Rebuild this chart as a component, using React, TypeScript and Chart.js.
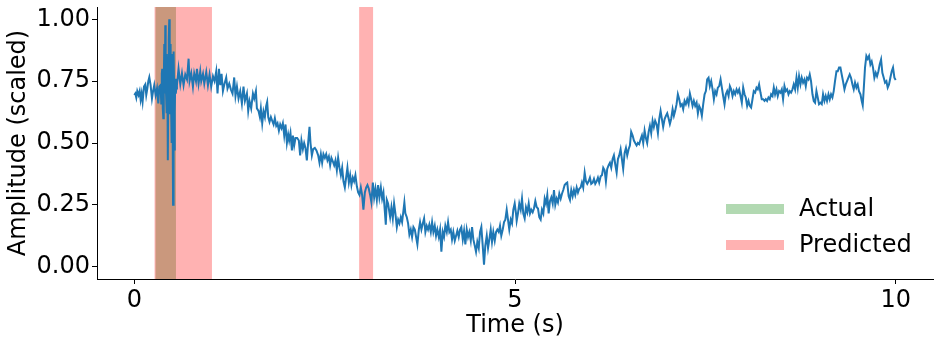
import React, { useEffect, useRef } from "react";
import { Chart, registerables } from "chart.js";

Chart.register(...registerables);

const timeSec = [
  0.000, 0.013, 0.026, 0.039, 0.056, 0.070, 0.083, 0.096, 0.109, 0.127, 0.144, 0.157, 0.171, 0.184, 0.197, 0.214,
  0.232, 0.245, 0.262, 0.280, 0.298, 0.315, 0.328, 0.345,
  0.354, 0.361, 0.367, 0.374, 0.381, 0.387, 0.394, 0.400, 0.407, 0.412, 0.417, 0.423, 0.427, 0.433, 0.438, 0.442,
  0.446, 0.450, 0.455, 0.459, 0.465, 0.470, 0.474, 0.479, 0.483, 0.486, 0.491, 0.495, 0.499, 0.503, 0.509, 0.514,
  0.518, 0.524, 0.529, 0.533, 0.538, 0.545, 0.551,
  0.560, 0.581, 0.604, 0.626, 0.647, 0.669, 0.692, 0.713, 0.726, 0.748, 0.770, 0.787, 0.810, 0.823, 0.844, 0.866,
  0.879, 0.902, 0.919, 0.945, 0.967, 0.988, 1.010, 1.033, 1.054, 1.076, 1.093, 1.112, 1.129, 1.146, 1.164, 1.185,
  1.207, 1.224, 1.247, 1.269, 1.290, 1.312, 1.329, 1.348, 1.369, 1.391, 1.413, 1.434, 1.453, 1.479, 1.496, 1.513,
  1.535, 1.558, 1.575, 1.597, 1.610, 1.631, 1.649, 1.662, 1.680, 1.697, 1.715, 1.732, 1.745, 1.759, 1.776, 1.794,
  1.811, 1.829, 1.846, 1.864, 1.881, 1.899, 1.916, 1.933, 1.951, 1.969, 1.986, 2.004, 2.021, 2.034, 2.051, 2.070,
  2.083, 2.100, 2.117, 2.139, 2.161, 2.178, 2.195, 2.214, 2.231, 2.248, 2.266, 2.283, 2.301, 2.314, 2.332, 2.349,
  2.371, 2.392, 2.415, 2.432, 2.450, 2.467, 2.484, 2.503, 2.520, 2.537, 2.555, 2.572, 2.589, 2.608, 2.625, 2.642,
  2.660, 2.677, 2.695, 2.713, 2.730, 2.747, 2.765, 2.782, 2.799, 2.818, 2.835, 2.852, 2.870, 2.887, 2.904, 2.923,
  2.940, 2.957, 2.975, 2.992, 3.009, 3.028, 3.045, 3.062, 3.080, 3.097, 3.114, 3.133, 3.150, 3.167, 3.185, 3.202,
  3.219, 3.238, 3.255, 3.272, 3.290, 3.303, 3.316, 3.333, 3.360, 3.377, 3.395, 3.412, 3.429, 3.448, 3.465, 3.482,
  3.500, 3.517, 3.534, 3.547, 3.560, 3.579, 3.596, 3.613, 3.631, 3.648, 3.666, 3.684, 3.701, 3.718, 3.737, 3.753,
  3.771, 3.789, 3.806, 3.823, 3.841, 3.858, 3.875, 3.894, 3.911, 3.928, 3.946, 3.963, 3.980, 3.999, 4.016, 4.033,
  4.051, 4.068, 4.085, 4.104, 4.121, 4.138, 4.156, 4.173, 4.190, 4.209, 4.226, 4.243, 4.261, 4.278, 4.295, 4.314,
  4.331, 4.348, 4.366, 4.383, 4.400, 4.419, 4.436, 4.453, 4.471, 4.488, 4.505, 4.524, 4.541, 4.558, 4.576, 4.593,
  4.610, 4.629, 4.646, 4.663, 4.681, 4.698, 4.715, 4.734, 4.751, 4.768, 4.786, 4.803, 4.820, 4.839, 4.856, 4.873,
  4.891, 4.908, 4.925, 4.944, 4.961, 4.978, 4.996, 5.013, 5.022, 5.039, 5.056, 5.075, 5.092, 5.109, 5.127, 5.144,
  5.162, 5.180, 5.197, 5.214, 5.232, 5.249, 5.267, 5.285, 5.302, 5.319, 5.337, 5.354, 5.372, 5.390, 5.407, 5.424,
  5.442, 5.459, 5.477, 5.495, 5.512, 5.529, 5.547, 5.564, 5.582, 5.600, 5.617, 5.634, 5.652, 5.669, 5.686, 5.705,
  5.722, 5.739, 5.757, 5.774, 5.791, 5.810, 5.827, 5.844, 5.862, 5.879, 5.896, 5.915, 5.932, 5.949, 5.967, 5.984,
  6.001, 6.020, 6.037, 6.054, 6.072, 6.089, 6.106, 6.125, 6.142, 6.159, 6.177, 6.194, 6.211, 6.230, 6.247, 6.264,
  6.282, 6.299, 6.316, 6.335, 6.352, 6.369, 6.387, 6.404, 6.421, 6.440, 6.457, 6.474, 6.492, 6.509, 6.526, 6.545,
  6.562, 6.579, 6.597, 6.614, 6.631, 6.650, 6.667, 6.684, 6.702, 6.719, 6.736, 6.755, 6.772, 6.789, 6.807, 6.824,
  6.841, 6.860, 6.877, 6.894, 6.912, 6.929, 6.946, 6.965, 6.982, 6.999, 7.017, 7.034, 7.051, 7.070, 7.087, 7.104,
  7.122, 7.139, 7.157, 7.174, 7.192, 7.209, 7.227, 7.244, 7.262, 7.280, 7.297, 7.314, 7.332, 7.349, 7.367, 7.385,
  7.402, 7.419, 7.437, 7.454, 7.472, 7.490, 7.507, 7.524, 7.542, 7.559, 7.577, 7.595, 7.612, 7.629, 7.647, 7.664,
  7.682, 7.700, 7.717, 7.734, 7.752, 7.769, 7.787, 7.805, 7.822, 7.839, 7.857, 7.874, 7.892, 7.910, 7.927, 7.944,
  7.962, 7.979, 7.997, 8.015, 8.031, 8.049, 8.067, 8.084, 8.101, 8.119, 8.136, 8.154, 8.172, 8.189, 8.206, 8.224,
  8.241, 8.259, 8.277, 8.294, 8.311, 8.329, 8.346, 8.364, 8.382, 8.399, 8.416, 8.434, 8.451, 8.469, 8.487, 8.504,
  8.521, 8.539, 8.556, 8.574, 8.592, 8.609, 8.626, 8.644, 8.661, 8.679, 8.697, 8.714, 8.731, 8.749, 8.766, 8.784,
  8.802, 8.819, 8.836, 8.854, 8.871, 8.888, 8.907, 8.924, 8.941, 8.959, 8.976, 8.993, 9.012, 9.029, 9.046, 9.064,
  9.081, 9.098, 9.117, 9.134, 9.151, 9.169, 9.186, 9.203, 9.222, 9.239, 9.256, 9.274, 9.291, 9.308, 9.327, 9.344,
  9.361, 9.379, 9.396, 9.413, 9.432, 9.449, 9.466, 9.484, 9.501, 9.518, 9.537, 9.554, 9.567, 9.580, 9.597, 9.615,
  9.633, 9.650, 9.668, 9.685, 9.702, 9.720, 9.738, 9.755, 9.773, 9.790, 9.808, 9.825, 9.843, 9.860, 9.878, 9.895,
  9.912, 9.930, 9.948, 9.965, 9.983, 10.000,
];

// Scaled amplitude at each time above
const amplitude = [
  0.694, 0.700, 0.683, 0.710, 0.694, 0.710, 0.675, 0.700, 0.667, 0.728, 0.737, 0.694, 0.720, 0.750, 0.766, 0.734,
  0.680, 0.707, 0.734, 0.694, 0.720, 0.660, 0.728, 0.734,
  0.660, 0.780, 0.800, 0.640, 0.600, 0.750, 0.900, 0.700, 0.976, 0.800, 0.700, 0.860, 0.620, 0.850, 0.600, 0.430,
  0.700, 0.750, 0.920, 1.000, 0.800, 0.620, 0.880, 0.900, 0.650, 0.500, 0.700, 0.860, 0.750, 0.600, 0.250, 0.550,
  0.870, 0.700, 0.470, 0.620, 0.760, 0.700, 0.720,
  0.734, 0.800, 0.738, 0.782, 0.734, 0.777, 0.757, 0.841, 0.750, 0.782, 0.728, 0.782, 0.750, 0.800, 0.740, 0.790,
  0.750, 0.780, 0.740, 0.787, 0.734, 0.777, 0.728, 0.770, 0.750, 0.790, 0.700, 0.800, 0.734, 0.780, 0.710, 0.740,
  0.765, 0.720, 0.740, 0.716, 0.700, 0.765, 0.690, 0.728, 0.680, 0.710, 0.660, 0.728, 0.670, 0.700, 0.630, 0.670,
  0.640, 0.700, 0.680, 0.710, 0.640, 0.630, 0.605, 0.640, 0.580, 0.628, 0.605, 0.650, 0.666, 0.605, 0.585, 0.605,
  0.590, 0.575, 0.600, 0.570, 0.580, 0.550, 0.575, 0.560, 0.580, 0.530, 0.575, 0.500, 0.534, 0.510, 0.540, 0.470,
  0.530, 0.490, 0.520, 0.520, 0.510, 0.450, 0.510, 0.475, 0.500, 0.480, 0.430, 0.500, 0.565, 0.500, 0.450, 0.475,
  0.480, 0.470, 0.450, 0.420, 0.455, 0.420, 0.455, 0.440, 0.455, 0.430, 0.445, 0.410, 0.440, 0.425, 0.410, 0.430,
  0.390, 0.440, 0.400, 0.370, 0.400, 0.345, 0.320, 0.360, 0.400, 0.340, 0.370, 0.330, 0.360, 0.345, 0.370, 0.325,
  0.300, 0.290, 0.320, 0.290, 0.230, 0.300, 0.320, 0.330, 0.315, 0.290, 0.260, 0.340, 0.280, 0.315, 0.270, 0.330,
  0.280, 0.320, 0.275, 0.300, 0.225, 0.170, 0.270, 0.255, 0.200, 0.240, 0.195, 0.255, 0.215, 0.160, 0.190, 0.175,
  0.200, 0.180, 0.225, 0.260, 0.215, 0.200, 0.175, 0.130, 0.150, 0.120, 0.160, 0.150, 0.120, 0.090, 0.150, 0.180,
  0.150, 0.175, 0.195, 0.140, 0.165, 0.150, 0.170, 0.140, 0.180, 0.140, 0.165, 0.125, 0.150, 0.120, 0.150, 0.060,
  0.140, 0.120, 0.165, 0.140, 0.180, 0.140, 0.150, 0.110, 0.140, 0.105, 0.125, 0.145, 0.120, 0.150, 0.160, 0.110,
  0.145, 0.090, 0.150, 0.120, 0.140, 0.105, 0.160, 0.110, 0.085, 0.060, 0.100, 0.075, 0.140, 0.160, 0.085, 0.008,
  0.085, 0.125, 0.075, 0.110, 0.150, 0.100, 0.140, 0.105, 0.140, 0.150, 0.140, 0.165, 0.125, 0.150, 0.180, 0.190,
  0.230, 0.190, 0.150, 0.190, 0.175, 0.230, 0.255, 0.215, 0.185, 0.215, 0.255, 0.230, 0.275, 0.215, 0.195, 0.240,
  0.220, 0.255, 0.215, 0.230, 0.220, 0.235, 0.265, 0.240, 0.235, 0.200, 0.190, 0.230, 0.215, 0.275, 0.255, 0.290,
  0.215, 0.265, 0.280, 0.255, 0.310, 0.250, 0.275, 0.260, 0.295, 0.275, 0.295, 0.310, 0.330, 0.336, 0.340, 0.285,
  0.270, 0.310, 0.285, 0.310, 0.290, 0.320, 0.300, 0.315, 0.320, 0.340, 0.320, 0.380, 0.345, 0.335, 0.345, 0.360,
  0.335, 0.340, 0.355, 0.335, 0.345, 0.360, 0.340, 0.365, 0.370, 0.400, 0.390, 0.345, 0.395, 0.410, 0.420, 0.400,
  0.435, 0.450, 0.415, 0.380, 0.435, 0.450, 0.475, 0.435, 0.395, 0.460, 0.480, 0.450, 0.475, 0.490, 0.545, 0.530,
  0.510, 0.500, 0.490, 0.500, 0.495, 0.515, 0.530, 0.500, 0.550, 0.520, 0.500, 0.545, 0.570, 0.540, 0.590, 0.565,
  0.590, 0.575, 0.540, 0.597, 0.630, 0.597, 0.565, 0.597, 0.610, 0.620, 0.600, 0.577, 0.597, 0.637, 0.610, 0.630,
  0.657, 0.697, 0.677, 0.650, 0.657, 0.637, 0.670, 0.657, 0.677, 0.657, 0.700, 0.677, 0.650, 0.670, 0.650, 0.663,
  0.620, 0.650, 0.637, 0.610, 0.657, 0.697, 0.710, 0.757, 0.764, 0.730, 0.750, 0.717, 0.677, 0.710, 0.697, 0.724,
  0.730, 0.757, 0.724, 0.690, 0.657, 0.697, 0.710, 0.690, 0.730, 0.717, 0.690, 0.710, 0.697, 0.717, 0.704, 0.717,
  0.690, 0.663, 0.724, 0.697, 0.684, 0.650, 0.670, 0.650, 0.643, 0.677, 0.710, 0.704, 0.724, 0.717, 0.737, 0.704,
  0.677, 0.677, 0.670, 0.677, 0.670, 0.684, 0.677, 0.697, 0.690, 0.724, 0.697, 0.717, 0.690, 0.710, 0.704, 0.717,
  0.677, 0.730, 0.710, 0.717, 0.697, 0.710, 0.704, 0.717, 0.737, 0.717, 0.764, 0.724, 0.770, 0.737, 0.764, 0.744,
  0.757, 0.730, 0.764, 0.757, 0.777, 0.750, 0.697, 0.670, 0.663, 0.710, 0.684, 0.657, 0.663, 0.657, 0.697, 0.670,
  0.690, 0.670, 0.697, 0.677, 0.697, 0.684, 0.710, 0.750, 0.790, 0.790, 0.805, 0.805, 0.777, 0.750, 0.717, 0.737,
  0.750, 0.764, 0.777, 0.764, 0.737, 0.717, 0.744, 0.724, 0.737, 0.710, 0.697, 0.670, 0.653, 0.717, 0.805, 0.852,
  0.840, 0.852, 0.818, 0.830, 0.805, 0.764, 0.784, 0.770, 0.790, 0.818, 0.838, 0.784, 0.764, 0.744, 0.750, 0.724,
  0.737, 0.764, 0.790, 0.805, 0.764, 0.755,
];

const xTicks = [0, 5, 10];
const yTicks = [0, 0.25, 0.5, 0.75, 1.0];

// Shaded intervals (seconds)
const actualSpans = [[0.279, 0.547]];
const predictedSpans = [
  [0.266, 1.02],
  [2.953, 3.136],
];

const legendLabels = ["Actual", "Predicted"];
const xTitle = "Time (s)";
const yTitle = "Amplitude (scaled)";

const FONT = "'DejaVu Sans', sans-serif";
const LINE_COLOR = "#1f77b4";
const ACTUAL_COLOR = "rgba(0,128,0,0.3)";
const PRED_COLOR = "rgba(255,0,0,0.3)";

export default function App() {
  const ref = useRef<HTMLCanvasElement | null>(null);

  useEffect(() => {
    if (!ref.current) return;

    const spanPlugin = {
      id: "spans",
      beforeDatasetsDraw(chart: any) {
        const { ctx, chartArea, scales } = chart;
        const x = scales.x;
        ctx.save();
        const draw = (spans: number[][], color: string) => {
          spans.forEach(([a, b]) => {
            const x0 = x.getPixelForValue(a);
            const x1 = x.getPixelForValue(b);
            ctx.fillStyle = color;
            ctx.fillRect(x0, chartArea.top, x1 - x0, chartArea.bottom - chartArea.top);
          });
        };
        draw(actualSpans, ACTUAL_COLOR);
        draw(predictedSpans, PRED_COLOR);
        ctx.restore();
      },
    };

    const legendPlugin = {
      id: "customLegend",
      afterDraw(chart: any) {
        const { ctx, chartArea } = chart;
        const colors = [ACTUAL_COLOR, PRED_COLOR];
        const handleX = chartArea.right - 207;
        const handleW = 58;
        const handleH = 10;
        const rows = [chartArea.bottom - 70, chartArea.bottom - 34];
        ctx.save();
        ctx.font = `24px ${FONT}`;
        ctx.textBaseline = "middle";
        ctx.textAlign = "left";
        legendLabels.forEach((label, i) => {
          ctx.fillStyle = colors[i];
          ctx.fillRect(handleX, rows[i] - handleH / 2, handleW, handleH);
          ctx.fillStyle = "#000";
          ctx.fillText(label, handleX + handleW + 15, rows[i] + 1);
        });
        ctx.restore();
      },
    };

    const data = timeSec.map((t, i) => ({ x: t, y: amplitude[i] }));

    const chart = new Chart(ref.current, {
      type: "line",
      data: {
        datasets: [
          {
            data,
            borderColor: LINE_COLOR,
            borderWidth: 2,
            pointRadius: 0,
            tension: 0,
            fill: false,
          },
        ],
      },
      options: {
        animation: false,
        responsive: false,
        devicePixelRatio: 1,
        layout: { padding: { left: 0, top: 7, right: 7, bottom: 0 } },
        plugins: { legend: { display: false }, tooltip: { enabled: false } },
        scales: {
          x: {
            type: "linear",
            min: -0.49,
            max: 10.49,
            afterFit(scale: any) {
              scale.height = 66;
              scale.paddingLeft = 0;
              scale.paddingRight = 0;
            },
            afterBuildTicks(scale: any) {
              scale.ticks = xTicks.map((v) => ({ value: v }));
            },
            ticks: {
              color: "#000",
              font: { family: FONT, size: 24 },
              padding: 2,
              maxRotation: 0,
              autoSkip: false,
              callback: (v: any) => String(v),
            },
            grid: {
              drawOnChartArea: false,
              drawTicks: true,
              tickLength: 5,
              tickColor: "#000",
              tickWidth: 1,
            },
            border: { display: true, color: "#000", width: 1 },
            title: {
              display: true,
              text: xTitle,
              color: "#000",
              font: { family: FONT, size: 24 },
              padding: { top: 0, bottom: 5 },
            },
          },
          y: {
            type: "linear",
            min: -0.05,
            max: 1.05,
            afterFit(scale: any) {
              scale.width = 97;
              scale.paddingTop = 0;
              scale.paddingBottom = 0;
            },
            afterBuildTicks(scale: any) {
              scale.ticks = yTicks.map((v) => ({ value: v }));
            },
            ticks: {
              color: "#000",
              font: { family: FONT, size: 24 },
              padding: 2,
              autoSkip: false,
              callback: (v: any) => Number(v).toFixed(2),
            },
            grid: {
              drawOnChartArea: false,
              drawTicks: true,
              tickLength: 5,
              tickColor: "#000",
              tickWidth: 1,
            },
            border: { display: true, color: "#000", width: 1 },
            title: {
              display: true,
              text: yTitle,
              color: "#000",
              font: { family: FONT, size: 24 },
              padding: { top: 4, bottom: 0 },
            },
          },
        },
      },
      plugins: [spanPlugin, legendPlugin],
    });

    return () => chart.destroy();
  }, []);

  return (
    <div style={{ position: "absolute", left: 0, top: 0, width: 940, height: 345, background: "#fff" }}>
      <canvas ref={ref} width={940} height={345} style={{ display: "block" }} />
    </div>
  );
}
